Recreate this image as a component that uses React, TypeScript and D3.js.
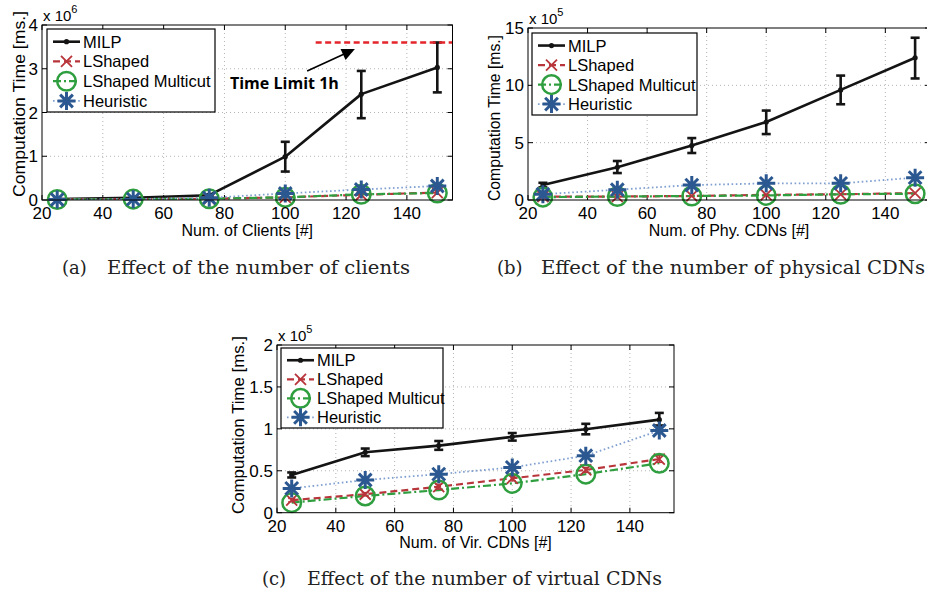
import React from "react";
import * as d3 from "d3";

// ---------- data ----------
const xValues = [25, 50, 75, 100, 125, 150];
const xTicks = [20, 40, 60, 80, 100, 120, 140];

// (a) clients, units of 1e6 ms
const clientsMilp = [0.02, 0.05, 0.11, 0.99, 2.42, 3.03];
const clientsMilpLow = [0.015, 0.045, 0.1, 0.65, 1.87, 2.46];
const clientsMilpHigh = [0.025, 0.055, 0.12, 1.33, 2.95, 3.6];
const clientsLShaped = [0.01, 0.02, 0.03, 0.06, 0.12, 0.17];
const clientsMulticut = [0.01, 0.02, 0.03, 0.06, 0.13, 0.16];
const clientsHeuristic = [0.01, 0.02, 0.05, 0.15, 0.24, 0.32];
const clientsTimeLimit = 3.6;
const clientsYTicks = [0, 1, 2, 3, 4];

// (b) physical CDNs, units of 1e5 ms
const phyMilp = [1.3, 2.85, 4.75, 6.8, 9.6, 12.4];
const phyMilpLow = [1.1, 2.35, 4.1, 5.75, 8.35, 10.6];
const phyMilpHigh = [1.5, 3.4, 5.4, 7.8, 10.85, 14.15];
const phyLShaped = [0.3, 0.3, 0.35, 0.45, 0.5, 0.6];
const phyMulticut = [0.25, 0.3, 0.35, 0.4, 0.5, 0.55];
const phyHeuristic = [0.5, 0.9, 1.3, 1.45, 1.45, 1.95];
const phyYTicks = [0, 5, 10, 15];

// (c) virtual CDNs, units of 1e5 ms
const virMilp = [0.45, 0.72, 0.8, 0.905, 0.995, 1.11];
const virMilpLow = [0.42, 0.675, 0.75, 0.86, 0.935, 1.04];
const virMilpHigh = [0.48, 0.765, 0.855, 0.95, 1.06, 1.19];
const virLShaped = [0.15, 0.22, 0.31, 0.41, 0.51, 0.64];
const virLShapedLow = [0.13, 0.2, 0.28, 0.38, 0.48, 0.6];
const virLShapedHigh = [0.17, 0.24, 0.34, 0.44, 0.54, 0.68];
const virMulticut = [0.12, 0.2, 0.27, 0.35, 0.46, 0.59];
const virHeuristic = [0.29, 0.39, 0.46, 0.54, 0.68, 0.98];
const virYTicks = [0, 0.5, 1, 1.5, 2];

const seriesNames = ["MILP", "LShaped", "LShaped Multicut", "Heuristic"];
const captions = [
  ["(a)", "Effect of the number of clients"],
  ["(b)", "Effect of the number of physical CDNs"],
  ["(c)", "Effect of the number of virtual CDNs"],
];

// ---------- styles ----------
const W = 927;
const H = 596;
const FONT = "'Liberation Sans', Arial, Helvetica, sans-serif";
const SERIF = "'DejaVu Serif', 'Liberation Serif', serif";
const C_MILP = "#141414";
const C_LS = "#b8353b";
const C_MC = "#2f9e3f";
const C_HEU = "#2c5891";
const C_HEU_LINE = "#7f9fd0";

type Box = { left: number; right: number; top: number; bottom: number };

function asteriskPath(r: number) {
  const d = r * 0.707;
  return `M${-r},0L${r},0M0,${-r}L0,${r}M${-d},${-d}L${d},${d}M${-d},${d}L${d},${-d}`;
}
function xPath(r: number) {
  return `M${-r},${-r}L${r},${r}M${-r},${r}L${r},${-r}`;
}

function Marker({ kind, x, y }: { kind: number; x: number; y: number }) {
  if (kind === 0) return <circle cx={x} cy={y} r={2.6} fill={C_MILP} />;
  if (kind === 1)
    return <path d={xPath(5.5)} transform={`translate(${x},${y})`} stroke={C_LS} strokeWidth={1.8} fill="none" />;
  if (kind === 2) return <circle cx={x} cy={y} r={9.3} stroke={C_MC} strokeWidth={2.5} fill="none" />;
  return <path d={asteriskPath(9)} transform={`translate(${x},${y})`} stroke={C_HEU} strokeWidth={3} fill="none" />;
}

const lineStyles = [
  { stroke: C_MILP, width: 2.6, dash: "" },
  { stroke: C_LS, width: 2.2, dash: "7,4" },
  { stroke: C_MC, width: 2.2, dash: "8,3,2,3" },
  { stroke: C_HEU_LINE, width: 1.8, dash: "1.6,2.6" },
];

type PanelCfg = {
  box: Box;
  yMax: number;
  yTicks: number[];
  series: number[][];
  errLow: (number[] | null)[];
  errHigh: (number[] | null)[];
  legend: { x: number; y: number; w: number; h: number };
  exponent: string;
  xLabel: string;
  yLabelY: number;
  yLabelX: number;
  yLabelLen: number;
  timeLimit?: number;
};

function Panel({ cfg }: { cfg: PanelCfg }) {
  const { box } = cfg;
  const x = d3.scaleLinear().domain([20, 155]).range([box.left, box.right]);
  const y = d3.scaleLinear().domain([0, cfg.yMax]).range([box.bottom, box.top]);
  const line = d3
    .line<number>()
    .x((_, i) => x(xValues[i]))
    .y((d) => y(d));
  const clipId = `clip-${Math.round(box.left)}-${Math.round(box.top)}`;
  const cx = (box.left + box.right) / 2;
  const lg = cfg.legend;
  const markerOrder = [0, 1, 2, 3];
  return (
    <g>
      <defs>
        <clipPath id={clipId}>
          <rect x={box.left} y={box.top} width={box.right - box.left} height={box.bottom - box.top} />
        </clipPath>
      </defs>
      <rect x={box.left} y={box.top} width={box.right - box.left} height={box.bottom - box.top} fill="#fff" />
      {/* grid */}
      <g stroke="#b4b4b4" strokeWidth={1} strokeDasharray="1,3">
        {xTicks.slice(1).map((t) => (
          <line key={"gx" + t} x1={x(t)} x2={x(t)} y1={box.top} y2={box.bottom} />
        ))}
        {cfg.yTicks.slice(1, -1).map((t) => (
          <line key={"gy" + t} x1={box.left} x2={box.right} y1={y(t)} y2={y(t)} />
        ))}
      </g>
      {/* ticks inward */}
      <g stroke="#000" strokeWidth={1}>
        {xTicks.map((t) => (
          <g key={"tx" + t}>
            <line x1={x(t)} x2={x(t)} y1={box.bottom} y2={box.bottom - 5} />
            <line x1={x(t)} x2={x(t)} y1={box.top} y2={box.top + 5} />
          </g>
        ))}
        {cfg.yTicks.map((t) => (
          <g key={"ty" + t}>
            <line x1={box.left} x2={box.left + 5} y1={y(t)} y2={y(t)} />
            <line x1={box.right} x2={box.right - 5} y1={y(t)} y2={y(t)} />
          </g>
        ))}
      </g>
      {/* series lines */}
      <g clipPath={`url(#${clipId})`}>
        {cfg.series.map((s, k) => (
          <path
            key={"l" + k}
            d={line(s) || ""}
            fill="none"
            stroke={lineStyles[k].stroke}
            strokeWidth={lineStyles[k].width}
            strokeDasharray={lineStyles[k].dash}
            strokeLinejoin="round"
          />
        ))}
      </g>
      {/* error bars */}
      {cfg.series.map((s, k) => {
        const lo = cfg.errLow[k];
        const hi = cfg.errHigh[k];
        if (!lo || !hi) return null;
        const col = k === 0 ? C_MILP : C_LS;
        const sw = k === 0 ? 2.6 : 1.4;
        const cap = k === 0 ? 4.5 : 3.5;
        return (
          <g key={"e" + k} stroke={col} strokeWidth={sw}>
            {xValues.map((xv, i) => (
              <g key={i}>
                <line x1={x(xv)} x2={x(xv)} y1={y(lo[i])} y2={y(hi[i])} />
                <line x1={x(xv) - cap} x2={x(xv) + cap} y1={y(lo[i])} y2={y(lo[i])} />
                <line x1={x(xv) - cap} x2={x(xv) + cap} y1={y(hi[i])} y2={y(hi[i])} />
              </g>
            ))}
          </g>
        );
      })}
      {/* markers */}
      {markerOrder.map((k) =>
        cfg.series[k].map((v, i) => <Marker key={`m${k}-${i}`} kind={k} x={x(xValues[i])} y={y(v)} />)
      )}
      {/* time limit */}
      {cfg.timeLimit !== undefined && (
        <g>
          <line
            x1={x(110)}
            x2={box.right}
            y1={y(cfg.timeLimit)}
            y2={y(cfg.timeLimit)}
            stroke="#e3242b"
            strokeWidth={2.6}
            strokeDasharray="6,3.5"
          />
          <line x1={x(107.2)} y1={y(2.95)} x2={x(121)} y2={y(3.39)} stroke="#000" strokeWidth={1.6} />
          <path
            d={(() => {
              const hx = x(122.9), hy = y(3.45);
              const tx = x(107.2), ty = y(2.95);
              const ang = Math.atan2(hy - ty, hx - tx);
              const L = 13, Wd = 6;
              const bx = hx - L * Math.cos(ang), by = hy - L * Math.sin(ang);
              const px = -Math.sin(ang) * Wd, py = Math.cos(ang) * Wd;
              return `M${hx},${hy}L${bx + px},${by + py}L${bx - px},${by - py}Z`;
            })()}
            fill="#000"
          />
          <text
            x={x(81.8)}
            y={y(2.53)}
            fontFamily="'Open Sans', 'DejaVu Sans', sans-serif"
            fontWeight="bold"
            fontSize={15.5}
            textLength={109}
            lengthAdjust="spacingAndGlyphs"
            fill="#000"
          >
            Time Limit 1h
          </text>
        </g>
      )}
      {/* frame */}
      <rect
        x={box.left}
        y={box.top}
        width={box.right - box.left}
        height={box.bottom - box.top}
        fill="none"
        stroke="#000"
        strokeWidth={1}
      />
      {/* tick labels */}
      <g fontFamily={FONT} fontSize={17} fill="#000">
        {xTicks.map((t) => (
          <text key={"xl" + t} x={x(t)} y={box.bottom + 19} textAnchor="middle">
            {t}
          </text>
        ))}
        {cfg.yTicks.map((t) => (
          <text key={"yl" + t} x={box.left - 4} y={y(t) + 6} textAnchor="end">
            {String(t)}
          </text>
        ))}
      </g>
      {/* exponent */}
      <text x={box.left + 1} y={box.top - 4} fontFamily={FONT} fontSize={15} fill="#000">
        x 10
        <tspan dy={-8} fontSize={11}>
          {cfg.exponent}
        </tspan>
      </text>
      {/* axis labels */}
      <text x={cx} y={box.bottom + 35.5} textAnchor="middle" fontFamily={FONT} fontSize={16} fill="#000">
        {cfg.xLabel}
      </text>
      <text
        transform={`translate(${cfg.yLabelX},${cfg.yLabelY}) rotate(-90)`}
        textAnchor="middle"
        fontFamily={FONT}
        fontSize={16.5}
        textLength={cfg.yLabelLen}
        lengthAdjust="spacingAndGlyphs"
        fill="#000"
      >
        Computation Time [ms.]
      </text>
      {/* legend */}
      <g>
        <rect x={lg.x} y={lg.y} width={lg.w} height={lg.h} fill="#fff" stroke="#000" strokeWidth={1.2} />
        {seriesNames.map((name, k) => {
          const ry = lg.y + lg.h * (0.153 + k * 0.238);
          const x1 = lg.x + 6;
          const x2 = lg.x + 33;
          return (
            <g key={name}>
              <line
                x1={x1}
                x2={x2}
                y1={ry}
                y2={ry}
                stroke={lineStyles[k].stroke}
                strokeWidth={lineStyles[k].width}
                strokeDasharray={lineStyles[k].dash}
              />
              <Marker kind={k} x={(x1 + x2) / 2} y={ry} />
              <text x={lg.x + 36} y={ry + 6} fontFamily={FONT} fontSize={16.5} fill="#000">
                {name}
              </text>
            </g>
          );
        })}
      </g>
    </g>
  );
}

const panelA: PanelCfg = {
  box: { left: 42, right: 452.5, top: 25, bottom: 200 },
  yMax: 4,
  yTicks: clientsYTicks,
  series: [clientsMilp, clientsLShaped, clientsMulticut, clientsHeuristic],
  errLow: [clientsMilpLow, null, null, null],
  errHigh: [clientsMilpHigh, null, null, null],
  legend: { x: 47, y: 29, w: 168, h: 83 },
  exponent: "6",
  xLabel: "Num. of Clients [#]",
  yLabelX: 25,
  yLabelY: 104,
  yLabelLen: 186,
  timeLimit: clientsTimeLimit,
};

const panelB: PanelCfg = {
  box: { left: 528, right: 930, top: 28, bottom: 200 },
  yMax: 15,
  yTicks: phyYTicks,
  series: [phyMilp, phyLShaped, phyMulticut, phyHeuristic],
  errLow: [phyMilpLow, null, null, null],
  errHigh: [phyMilpHigh, null, null, null],
  legend: { x: 532, y: 33, w: 165, h: 82 },
  exponent: "5",
  xLabel: "Num. of Phy. CDNs [#]",
  yLabelX: 500,
  yLabelY: 118,
  yLabelLen: 166,
};

const panelC: PanelCfg = {
  box: { left: 277, right: 674, top: 345, bottom: 512.7 },
  yMax: 2,
  yTicks: virYTicks,
  series: [virMilp, virLShaped, virMulticut, virHeuristic],
  errLow: [virMilpLow, virLShapedLow, null, null],
  errHigh: [virMilpHigh, virLShapedHigh, null, null],
  legend: { x: 281, y: 348, w: 162, h: 80 },
  exponent: "5",
  xLabel: "Num. of Vir. CDNs [#]",
  yLabelX: 244,
  yLabelY: 425,
  yLabelLen: 178,
};

const captionPos = [
  { x: 62, xt: 107, y: 274, end: 410 },
  { x: 497, xt: 541, y: 274, end: 925 },
  { x: 262, xt: 307, y: 585, end: 662 },
];

export default function App() {
  return (
    <svg
      width={W}
      height={H}
      viewBox={`0 0 ${W} ${H}`}
      style={{ position: "absolute", left: 0, top: 0, background: "#fff" }}
    >
      <rect width={W} height={H} fill="#fff" />
      <Panel cfg={panelA} />
      <Panel cfg={panelB} />
      <Panel cfg={panelC} />
      {captions.map(([lab, txt], i) => {
        const p = captionPos[i];
        return (
          <g key={lab} fontFamily={SERIF} fontSize={18} fill="#222">
            <text x={p.x} y={p.y}>
              {lab}
            </text>
            <text x={p.xt} y={p.y} textLength={p.end - p.xt} lengthAdjust="spacingAndGlyphs">
              {txt}
            </text>
          </g>
        );
      })}
    </svg>
  );
}
